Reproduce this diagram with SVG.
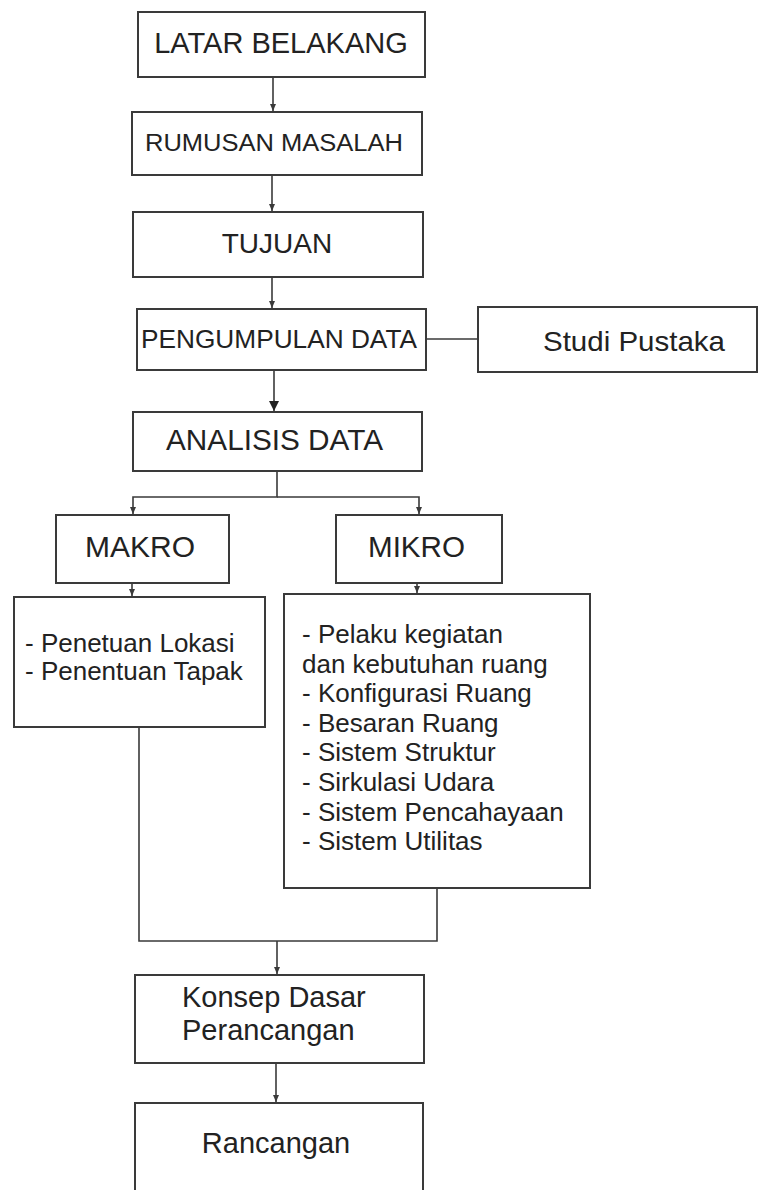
<svg xmlns="http://www.w3.org/2000/svg" width="759" height="1190" viewBox="0 0 759 1190">
<style>
.box{fill:#fff;stroke:#3a3a3a;stroke-width:2}
.t{font-family:"Liberation Sans",Arial,sans-serif;fill:#222}
.c{text-anchor:middle}
.ln{fill:none;stroke:#3a3a3a;stroke-width:1.6}
</style>
<defs>
<marker id="ah" markerUnits="userSpaceOnUse" markerWidth="8" markerHeight="8" refX="7" refY="4" orient="auto">
<path d="M0,1 L7,4 L0,7 Z" fill="#3a3a3a"/>
</marker>
<marker id="ahb" markerUnits="userSpaceOnUse" markerWidth="12" markerHeight="12" refX="10" refY="5" orient="auto">
<path d="M0,0 L10,5 L0,10 Z" fill="#222"/>
</marker>
</defs>
<rect width="759" height="1190" fill="#fff"/>
<g id="connectors">
<path class="ln" d="M273 77 V111" marker-end="url(#ah)"/>
<path class="ln" d="M272 175 V211" marker-end="url(#ah)"/>
<path class="ln" d="M272 277 V308" marker-end="url(#ah)"/>
<path class="ln" d="M426 339 H478"/>
<path class="ln" d="M274 370 V411" stroke-width="2.6" marker-end="url(#ahb)"/>
<path class="ln" d="M277 471 V497 H133 V514" marker-end="url(#ah)"/>
<path class="ln" d="M277 497 H419 V514" marker-end="url(#ah)"/>
<path class="ln" d="M132 583 V596" marker-end="url(#ah)"/>
<path class="ln" d="M417 583 V593" marker-end="url(#ah)"/>
<path class="ln" d="M139 727 V941 H437 V888"/>
<path class="ln" d="M277 941 V974" marker-end="url(#ah)"/>
<path class="ln" d="M276 1063 V1102" marker-end="url(#ah)"/>
</g>
<g id="latar"><rect class="box" x="138" y="12" width="287" height="65"/><text class="t c" x="281" y="53" font-size="29">LATAR BELAKANG</text></g>
<g id="rumusan"><rect class="box" x="132" y="112" width="290" height="63"/><text class="t" x="145" y="151" font-size="23" textLength="258" lengthAdjust="spacingAndGlyphs">RUMUSAN MASALAH</text></g>
<g id="tujuan"><rect class="box" x="133" y="212" width="290" height="65"/><text class="t c" x="277" y="253" font-size="28">TUJUAN</text></g>
<g id="pengumpulan"><rect class="box" x="137" y="309" width="289" height="61"/><text class="t" x="141" y="348" font-size="26" textLength="276" lengthAdjust="spacingAndGlyphs">PENGUMPULAN DATA</text></g>
<g id="studi"><rect class="box" x="478" y="307" width="279" height="65"/><text class="t" x="543" y="351" font-size="28" textLength="182" lengthAdjust="spacingAndGlyphs">Studi Pustaka</text></g>
<g id="analisis"><rect class="box" x="133" y="412" width="289" height="59"/><text class="t" x="166" y="450" font-size="29" textLength="217" lengthAdjust="spacingAndGlyphs">ANALISIS DATA</text></g>
<g id="makro"><rect class="box" x="56" y="515" width="173" height="68"/><text class="t" x="85" y="557" font-size="29" textLength="110" lengthAdjust="spacingAndGlyphs">MAKRO</text></g>
<g id="mikro"><rect class="box" x="336" y="515" width="166" height="68"/><text class="t" x="368" y="557" font-size="29" textLength="97" lengthAdjust="spacingAndGlyphs">MIKRO</text></g>
<g id="makro-list"><rect class="box" x="14" y="597" width="251" height="130"/>
<text class="t" font-size="26"><tspan x="25" y="652">- Penetuan Lokasi</tspan><tspan x="25" y="680">- Penentuan Tapak</tspan></text></g>
<g id="mikro-list"><rect class="box" x="284" y="594" width="306" height="294"/>
<text class="t" font-size="26"><tspan x="302" y="643">- Pelaku kegiatan</tspan><tspan x="302" y="672.6">dan kebutuhan ruang</tspan><tspan x="302" y="702.2">- Konfigurasi Ruang</tspan><tspan x="302" y="731.8">- Besaran Ruang</tspan><tspan x="302" y="761.4">- Sistem Struktur</tspan><tspan x="302" y="791">- Sirkulasi Udara</tspan><tspan x="302" y="820.6">- Sistem Pencahayaan</tspan><tspan x="302" y="850.2">- Sistem Utilitas</tspan></text></g>
<g id="konsep"><rect class="box" x="135" y="975" width="289" height="88"/>
<text class="t" font-size="29"><tspan x="182" y="1007">Konsep Dasar</tspan><tspan x="182" y="1040">Perancangan</tspan></text></g>
<g id="rancangan"><rect class="box" x="135" y="1103" width="288" height="100"/><text class="t c" x="276" y="1153" font-size="29">Rancangan</text></g>
</svg>
